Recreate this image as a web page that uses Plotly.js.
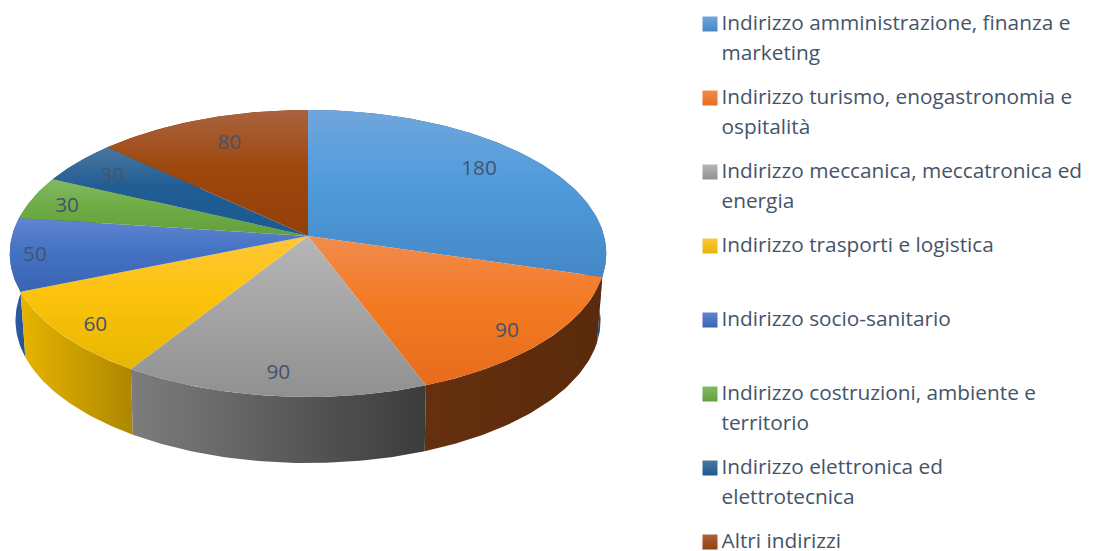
<!DOCTYPE html>
<html><head><meta charset="utf-8">
<script src="https://cdn.plot.ly/plotly-3.0.1.min.js"></script>
<style>html,body{margin:0;padding:0;background:#fff}#c{width:1094px;height:551px}</style>
</head><body><div id="c"></div>
<script>
const categories=["Indirizzo amministrazione, finanza e marketing","Indirizzo turismo, enogastronomia e ospitalità","Indirizzo meccanica, meccatronica ed energia","Indirizzo trasporti e logistica","Indirizzo socio-sanitario","Indirizzo costruzioni, ambiente e territorio","Indirizzo elettronica ed elettrotecnica","Altri indirizzi"];
const values=[180,90,90,60,50,30,30,80];
const legendFirstLine=["Indirizzo amministrazione, finanza e","Indirizzo turismo, enogastronomia e","Indirizzo meccanica, meccatronica ed","Indirizzo trasporti e logistica","Indirizzo socio-sanitario","Indirizzo costruzioni, ambiente e","Indirizzo elettronica ed","Altri indirizzi"];
const legendSecondLine=["marketing","ospitalità","energia","","","territorio","elettrotecnica",""];
const topLight=["#70a6dc","#f08c4e","#b6b6b6","#ffc63a","#6185d0","#82b964","#4b769f","#aa633f"];
const topMid=["#4f9bdc","#f47a22","#a5a5a5","#fcc30c","#4472c4","#70ad47","#205d95","#9e480e"];
const topDark=["#4587c6","#e86c1c","#909090","#e6b600","#3a64b4","#62a03c","#1c5a8e","#943f08"];
const wallLeft=["#2a5a90","#65300f","#7d7d7d","#e8b400","#2f62b0","#4a7a30","#184a78","#6e3209"];
const wallRight=["#1f4a78","#592a0b","#3b3b3b","#ad8700","#24518f","#4a7a30","#184a78","#6e3209"];
const labelRadius=[0.794,0.870,0.865,0.879,0.908,0.858,0.826,0.779];
const labelTurn=[-3.2,2.2,0,-1.4,-0.5,-1,-0.6,2];
const wallOrder=[7,6,5,0,4,1,3,2];

const F='"Open Sans", sans-serif', TXT='#44546a';
const cx=308,topCfg={cy:236,a:296,b:141.4,k:0.122},lowCfg={cy:301.7,a:290,b:140,k:0.132},labelCfg={cy:236,a:299,b:141.4,k:0.122};
const total=values.reduce((p,v)=>p+v,0);
function proj(c,deg,r){const t=deg*Math.PI/180,s=Math.sin(t)*r,o=Math.cos(t)*r,d=1+c.k*o;
  return [cx+c.a*s/d,c.cy-c.b*o/d];}
function rim(c,a0,a1){const n=Math.max(2,Math.ceil(Math.abs(a1-a0)));const out=[];
  for(let i=0;i<=n;i++)out.push(proj(c,a0+(a1-a0)*i/n,1));return out;}
const starts=[];let acc=0;values.forEach(v=>{starts.push(acc/total*360);acc+=v;});
const ends=starts.map((s,i)=>s+values[i]/total*360);
const traces=[];
function poly(pts,name,grad){traces.push({type:'scatter',mode:'lines',x:pts.map(p=>p[0]),y:pts.map(p=>p[1]),
  fill:'toself',line:{width:0},fillgradient:grad,name:name,hoverinfo:'name',showlegend:false,cliponaxis:false});}
wallOrder.forEach(i=>{
  const pts=rim(topCfg,starts[i],ends[i]).concat(rim(lowCfg,ends[i],starts[i]));pts.push(pts[0]);
  poly(pts,categories[i],{type:'horizontal',colorscale:[[0,wallLeft[i]],[1,wallRight[i]]]});
});
values.forEach((v,i)=>{
  const pts=[[cx,topCfg.cy]].concat(rim(topCfg,starts[i],ends[i]));pts.push(pts[0]);
  poly(pts,categories[i],{type:'vertical',colorscale:[[0,topDark[i]],[0.55,topMid[i]],[1,topLight[i]]]});
});
const labelDrop=2;
const lab=values.map((v,i)=>proj(labelCfg,(starts[i]+ends[i])/2+labelTurn[i],labelRadius[i]));
traces.push({type:'scatter',mode:'text',x:lab.map(p=>p[0]),y:lab.map(p=>p[1]+labelDrop),text:values.map(String),
  textposition:'middle center',textfont:{family:F,size:20.8,color:TXT},hoverinfo:'skip',showlegend:false,cliponaxis:false});
const legX=710,legTxt=721.5,legY0=24,legStep=74,legLine=30;
const swY=values.map((v,i)=>legY0+i*legStep);
traces.push({type:'scatter',mode:'markers',x:values.map(()=>legX),y:swY,hoverinfo:'skip',showlegend:false,cliponaxis:false,
  marker:{symbol:'square',size:15,color:topLight,gradient:{type:'vertical',color:topDark},line:{width:0}}});
const tx=[],ty=[],tt=[];
categories.forEach((c,i)=>{tx.push(legTxt);ty.push(swY[i]+1);tt.push(legendFirstLine[i]);
  if(legendSecondLine[i]){tx.push(legTxt);ty.push(swY[i]+legLine+1);tt.push(legendSecondLine[i]);}});
traces.push({type:'scatter',mode:'text',x:tx,y:ty,text:tt,textposition:'middle right',
  textfont:{family:F,size:20.8,color:TXT},hoverinfo:'skip',showlegend:false,cliponaxis:false});
Plotly.newPlot('c',traces,{width:1094,height:551,margin:{l:0,r:0,t:0,b:0},paper_bgcolor:'#fff',plot_bgcolor:'#fff',showlegend:false,
  xaxis:{range:[0,1094],visible:false,fixedrange:true},yaxis:{range:[551,0],visible:false,fixedrange:true}},{displayModeBar:false,staticPlot:false});
</script></body></html>
